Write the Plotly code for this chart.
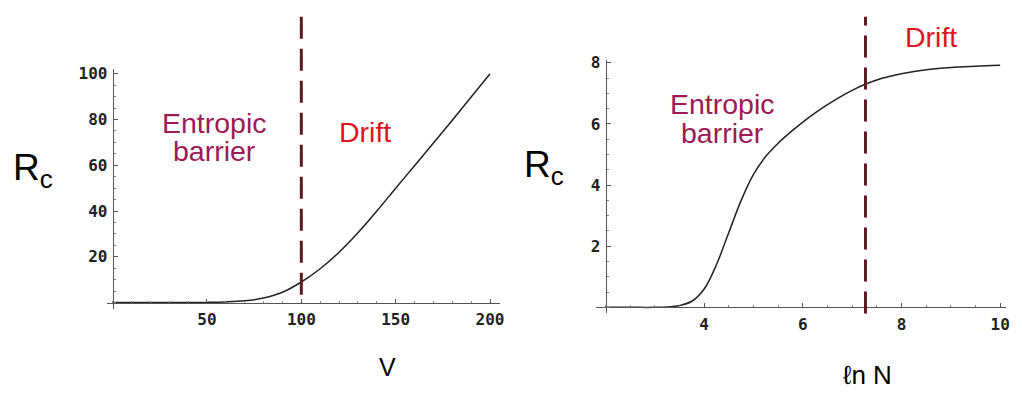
import plotly.graph_objects as go

# ---------------- data ----------------
v_vals = [0, 10, 20, 30, 40, 50, 60, 70, 80, 90, 100, 110, 120, 130, 140,
          150, 160, 170, 180, 190, 200]
rc_v = [0, 0, 0, 0, 0.02, 0.1, 0.3, 0.8, 2.0, 4.5, 9.0, 14.8, 22.0, 30.5,
        40.0, 50.0, 59.8, 69.7, 79.7, 89.8, 100.0]

lnn_vals = [2.0, 2.5, 3.0, 3.25, 3.5, 3.75, 4.0, 4.25, 4.5, 4.75, 5.0, 5.25,
            5.5, 5.75, 6.0, 6.25, 6.5, 6.75, 7.0, 7.25, 7.5, 7.75, 8.0, 8.5,
            9.0, 9.5, 10.0]
rc_n = [0, 0, 0, 0.01, 0.06, 0.2, 0.6, 1.4, 2.45, 3.5, 4.35, 4.94,
        5.37, 5.73, 6.06, 6.36, 6.63, 6.88, 7.1, 7.29, 7.44, 7.55, 7.64, 7.77,
        7.85, 7.89, 7.92]

v_boundary = 100
lnn_boundary = 7.27

v_ticks = [50, 100, 150, 200]
rcv_ticks = [20, 40, 60, 80, 100]
lnn_ticks = [4, 6, 8, 10]
rcn_ticks = [2, 4, 6, 8]

label_entropic = ["Entropic", "barrier"]
label_drift = "Drift"
label_rc = "R<sub>c</sub>"
label_v = "V"
label_lnn = "ℓn N"

# ---------------- layout helpers ----------------
W, H = 1022, 395

# left panel
xr1 = [-3.2, 205.3]
yr1 = [-2.6, 102.1]
xd1 = [107 / W, 502 / W]
yd1 = [(H - 307) / H, (H - 63) / H]
# right panel
xr2 = [1.80, 10.12]
yr2 = [-0.2, 8.09]
xd2 = [598 / W, 1010 / W]
yd2 = [(H - 312) / H, (H - 54) / H]


def pos(val, rng, dom):
    return dom[0] + (val - rng[0]) / (rng[1] - rng[0]) * (dom[1] - dom[0])


tickfont = dict(family="DejaVu Sans Mono", size=16, color="#222222", weight="bold")
axcol = "#555555"

fig = go.Figure()
fig.add_trace(go.Scatter(x=v_vals, y=rc_v, mode="lines", line=dict(color="#222222", width=1.5, shape="spline"),
                         xaxis="x", yaxis="y", showlegend=False, hoverinfo="skip"))
fig.add_trace(go.Scatter(x=lnn_vals, y=rc_n, mode="lines", line=dict(color="#222222", width=1.5, shape="spline"),
                         xaxis="x2", yaxis="y2", showlegend=False, hoverinfo="skip"))


def axis_cfg(rng, dom, ticks, p, dtick):
    return dict(range=rng, domain=dom, anchor="free", position=p, showgrid=False, zeroline=False,
                showline=True, linecolor=axcol, linewidth=1, tickmode="array", tickvals=ticks,
                ticks="inside", ticklen=4, tickcolor=axcol, tickfont=tickfont, ticklabelstandoff=2,
                minor=dict(dtick=dtick, tick0=0, ticks="inside", ticklen=2, tickcolor="#888888", showgrid=False),
                fixedrange=True)


fig.update_layout(
    width=W, height=H, margin=dict(l=0, r=0, t=0, b=0),
    paper_bgcolor="white", plot_bgcolor="white",
    xaxis=axis_cfg(xr1, xd1, v_ticks, pos(0, yr1, yd1), 10),
    yaxis=axis_cfg(yr1, yd1, rcv_ticks, pos(0, xr1, xd1), 5),
    xaxis2=axis_cfg(xr2, xd2, lnn_ticks, pos(0, yr2, yd2), 0.5),
    yaxis2=axis_cfg(yr2, yd2, rcn_ticks, pos(2, xr2, xd2), 0.5),
)

dash_col = "#5c1a22"
fig.add_shape(type="line", xref="x", yref="paper", x0=v_boundary, x1=v_boundary,
              y0=(H - 293) / H, y1=(H - 10) / H, line=dict(color=dash_col, width=3, dash="22px,10px"))
fig.add_shape(type="line", xref="x2", yref="paper", x0=lnn_boundary, x1=lnn_boundary,
              y0=(H - 312) / H, y1=(H - 10) / H, line=dict(color=dash_col, width=3, dash="22px,10px"))

txt_font = "Liberation Sans, Arial, sans-serif"
ent_col = "#9c1a55"
drift_col = "#e0141c"
tsize = 28.5

ann = []
# left panel labels
ann.append(dict(x=53.8, y=78.3, xref="x", yref="y", text=label_entropic[0], showarrow=False,
                font=dict(family=txt_font, size=tsize, color=ent_col), xanchor="center", yanchor="middle"))
ann.append(dict(x=53.8, y=66.3, xref="x", yref="y", text=label_entropic[1], showarrow=False,
                font=dict(family=txt_font, size=tsize, color=ent_col), xanchor="center", yanchor="middle"))
ann.append(dict(x=133.5, y=74.7, xref="x", yref="y", text=label_drift, showarrow=False,
                font=dict(family=txt_font, size=tsize, color=drift_col), xanchor="center", yanchor="middle"))
# right panel labels
ann.append(dict(x=4.365, y=6.65, xref="x2", yref="y2", text=label_entropic[0], showarrow=False,
                font=dict(family=txt_font, size=tsize, color=ent_col), xanchor="center", yanchor="middle"))
ann.append(dict(x=4.365, y=5.71, xref="x2", yref="y2", text=label_entropic[1], showarrow=False,
                font=dict(family=txt_font, size=tsize, color=ent_col), xanchor="center", yanchor="middle"))
ann.append(dict(x=pos(8.59, xr2, xd2), y=pos(8.86, yr2, yd2), xref="paper", yref="paper", text=label_drift,
                showarrow=False, font=dict(family=txt_font, size=tsize, color=drift_col),
                xanchor="center", yanchor="middle"))
# axis titles
ann.append(dict(x=33 / W, y=(H - 166) / H, xref="paper", yref="paper", text=label_rc, showarrow=False,
                font=dict(family=txt_font, size=37, color="black"), xanchor="center", yanchor="middle"))
ann.append(dict(x=546 / W, y=(H - 163) / H, xref="paper", yref="paper", text=label_rc, showarrow=False,
                font=dict(family=txt_font, size=37, color="black"), xanchor="center", yanchor="middle"))
ann.append(dict(x=389 / W, y=(H - 366) / H, xref="paper", yref="paper", text=label_v, showarrow=False,
                font=dict(family=txt_font, size=25, color="black"), xanchor="center", yanchor="middle"))
ann.append(dict(x=871 / W, y=(H - 375) / H, xref="paper", yref="paper", text=label_lnn, showarrow=False,
                font=dict(family=txt_font, size=26, color="black"), xanchor="center", yanchor="middle"))
fig.update_layout(annotations=ann)

fig.write_html("out.html")
